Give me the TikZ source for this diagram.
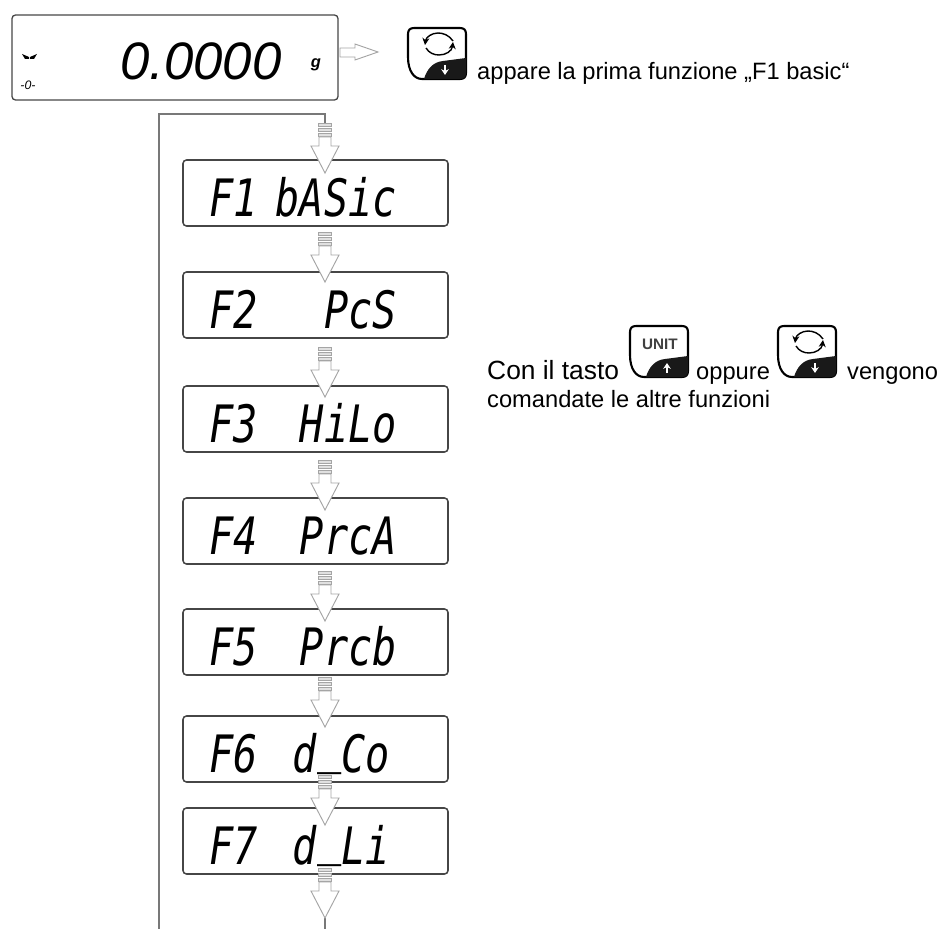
\documentclass[tikz,border=0pt]{standalone}
\usepackage{fontspec}
\setmainfont{Liberation Sans}
\newfontfamily\lcdfont[FakeStretch=0.78]{DejaVu Sans Mono}
\usetikzlibrary{arrows.meta}
\definecolor{lcdedge}{RGB}{70,70,70}
\definecolor{arrowgrey}{RGB}{165,165,165}
\definecolor{loopgrey}{RGB}{120,120,120}
\newcommand{\keyoutline}{
  \draw[line width=1.8pt, fill=white] (7,1) -- (53,1) .. controls (57,1) and (59,3) .. (59,7) -- (59,46)
    .. controls (59,50) and (57,52) .. (53,52) -- (15,52) .. controls (7,52) and (1,44) .. (1,30)
    -- (1,7) .. controls (1,3) and (3,1) .. (7,1) -- cycle;
  \fill[black!90] (59,31) -- (59,46) .. controls (59,50) and (57,52) .. (53,52) -- (17,52)
    .. controls (20,42) and (26,35) .. (36,34) -- cycle;
}
\newcommand{\flowarrow}[1]{
  \begin{scope}[shift={(325,#1)}]
    \foreach \ybar in {-50,-45,-40}
      \draw[arrowgrey, fill=black!12, line width=0.6pt] (-6.5,\ybar) rectangle (6.5,\ybar+3.5);
    \draw[arrowgrey, fill=white, line width=0.8pt] (-6,-36) -- (6,-36) -- (6,-27) -- (14,-27) -- (0,0)
      -- (-14,-27) -- (-6,-27) -- cycle;
  \end{scope}
}
\newcommand{\lowbar}{\raisebox{8pt}{\_}}
\tikzset{
  lcdbox/.style={draw=lcdedge, line width=1.3pt, rounded corners=3pt, minimum width=7.95cm, minimum height=1.98cm},
  lcdlabel/.style={inner sep=0pt, font=\lcdfont\itshape\fontsize{44}{44}\selectfont},
  plaintext/.style={inner sep=0pt, anchor=base west, font=\fontsize{20.2}{24}\selectfont},
  cyclekey/.pic={
    \keyoutline
    \draw[line width=1.2pt, -{Stealth[length=6pt,width=6pt]}] (46,14) .. controls (42,8) and (36,6) .. (31,6) .. controls (25,6) and (19,10) .. (18,18);
    \draw[line width=1.2pt, -{Stealth[length=6pt,width=6pt]}] (19,21) .. controls (22,26) and (27,28) .. (32,28) .. controls (39,28) and (45,24) .. (46,15);
    \draw[white, line width=1.6pt, -{Stealth[length=5pt,width=6.5pt]}] (38,38) -- (38,48);
  },
  unitkey/.pic={
    \keyoutline
    \node[inner sep=0pt, text=black!75, font=\bfseries\fontsize{13}{13}\selectfont] (unitlabel) at (31,19) {UNIT};
    \draw[white, line width=1.6pt, -{Stealth[length=5pt,width=6.5pt]}] (38,48) -- (38,38);
  }
}
\begin{document}
\begin{tikzpicture}[x=0.03cm, y=-0.03cm]
  \useasboundingbox (0,0) rectangle (942,929);

  % balance display
  \node[draw=lcdedge, line width=1.1pt, rounded corners=3pt, minimum width=9.78cm, minimum height=2.55cm] (scalebox) at (175,57.5) {};
  \node[inner sep=0pt, anchor=base west, font=\itshape\fontsize{45}{45}\selectfont] (weight) at (120,80) {0.0000};
  \node[inner sep=0pt, font=\bfseries\itshape\fontsize{14}{14}\selectfont] (unitg) at (316,65) {g};
  \node[inner sep=0pt, font=\itshape\fontsize{10.5}{10.5}\selectfont] (zeromark) at (28,85) {-0-};
  \fill (22,54) -- (29,57) -- (29,59) -- (25,59) -- cycle;
  \fill (37,54) -- (30,57) -- (30,59) -- (34,59) -- cycle;
  \draw[arrowgrey, fill=white, line width=0.8pt] (340,48) -- (355,48) -- (355,44) -- (378,52) -- (355,60) -- (355,57) -- (340,57) -- cycle;

  % keys and texts
  \pic at (407,27) {cyclekey};
  \node[plaintext] (firstnote) at (477,80) {appare la prima funzione „F1 basic“};
  \node[plaintext, font=\fontsize{22.5}{26}\selectfont] (contasto) at (487,379) {Con il tasto};
  \pic at (629,325) {unitkey};
  \node[plaintext] (oppure) at (696,379) {oppure};
  \pic at (777,325) {cyclekey};
  \node[plaintext] (vengono) at (847,379) {vengono};
  \node[plaintext] (comandate) at (487,407) {comandate le altre funzioni};

  % function list
  \foreach \fname/\ytop/\fnlabel/\modelabel/\xend in {f1/160/F1/bASic/397, f2/272/F2/PcS/397, f3/386/F3/HiLo/397,
      f4/498/F4/PrcA/397, f5/609/F5/Prcb/397, f6/716/F6/d\lowbar Co/390, f7/808/F7/d\lowbar Li/390} {
    \node[lcdbox] (\fname) at (315.5,\ytop+33) {};
    \node[lcdlabel, anchor=base west] (\fname fn) at (209,\ytop+56) {\fnlabel};
    \node[lcdlabel, anchor=base east] (\fname mode) at (\xend,\ytop+56) {\modelabel};
  }

  % loop line and arrows
  \coordinate (loopstart) at (159,929);
  \coordinate (looptop) at (325,114);
  \coordinate (loopin) at (325,123);
  \coordinate (lastarrow) at (325,918);
  \coordinate (lastend) at (325,929);
  \draw[loopgrey, line width=1pt] (loopstart) |- (looptop) -- (loopin);
  \draw[loopgrey, line width=1pt] (lastarrow) -- (lastend);
  \foreach \ytip in {173,282,397,510,621,727,825,918} {
    \flowarrow{\ytip}
  }
\end{tikzpicture}
\end{document}
